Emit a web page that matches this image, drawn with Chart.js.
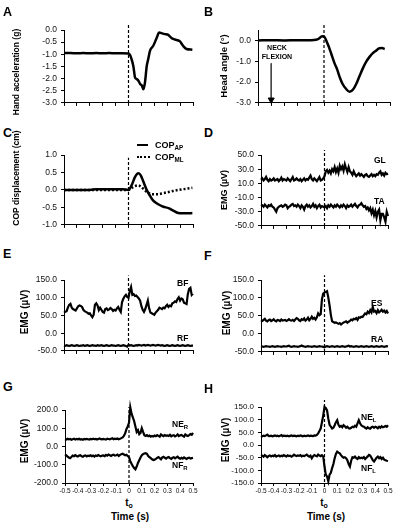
<!DOCTYPE html>
<html lang="en">
<head>
<meta charset="UTF-8">
<title>Neck flexion responses</title>
<script src="https://cdn.jsdelivr.net/npm/chart.js"></script>
<style>
  body { margin: 0; background: #fff; font-family: "Liberation Sans", Arial, sans-serif; color: #000; }
  #fig { position: relative; width: 402px; height: 527px; overflow: hidden; }
  canvas { position: absolute; }
  .lab { position: absolute; font-weight: bold; line-height: 1; white-space: nowrap; }
  .panel { font-size: 12.5px; }
  .yt { transform: translate(-50%, -50%) rotate(-90deg); }
  .ser { font-size: 8.5px; transform: translateY(-50%); }
  .mid { transform: translate(-50%, -50%); text-align: center; }
  sub { font-size: 70%; vertical-align: -2px; line-height: 0; }
  .smp { position: absolute; height: 0; }
</style>
</head>
<body>
<div id="fig">
  <canvas id="cA"></canvas><canvas id="cB"></canvas>
  <canvas id="cC"></canvas><canvas id="cD"></canvas>
  <canvas id="cE"></canvas><canvas id="cF"></canvas>
  <canvas id="cG"></canvas><canvas id="cH"></canvas>

  <!-- panel letters -->
  <div class="lab panel" style="left:3px;top:6px">A</div>
  <div class="lab panel" style="left:204px;top:6px">B</div>
  <div class="lab panel" style="left:3px;top:127px">C</div>
  <div class="lab panel" style="left:204px;top:127px">D</div>
  <div class="lab panel" style="left:3px;top:248px">E</div>
  <div class="lab panel" style="left:204px;top:250px">F</div>
  <div class="lab panel" style="left:3px;top:381px">G</div>
  <div class="lab panel" style="left:204px;top:383px">H</div>

  <!-- y axis titles -->
  <div class="lab yt" style="left:16px;top:72px;font-size:8.5px">Hand acceleration (g)</div>
  <div class="lab yt" style="left:224px;top:66px;font-size:9.5px">Head angle (°)</div>
  <div class="lab yt" style="left:16px;top:178px;font-size:8.5px">COP displacement (cm)</div>
  <div class="lab yt" style="left:224px;top:190px;font-size:9px">EMG (µV)</div>
  <div class="lab yt" style="left:25px;top:312px;font-size:10px">EMG (µV)</div>
  <div class="lab yt" style="left:227px;top:313px;font-size:10px">EMG (µV)</div>
  <div class="lab yt" style="left:25px;top:441px;font-size:10px">EMG (µV)</div>
  <div class="lab yt" style="left:226px;top:440px;font-size:10px">EMG (µV)</div>

  <!-- annotations -->
  <div class="lab mid" style="left:277px;top:52px;font-size:7px;line-height:9px">NECK<br>FLEXION</div>

  <div class="smp" style="left:137px;top:144px;width:11px;border-top:2px solid #000"></div>
  <div class="smp" style="left:137px;top:156px;width:13px;border-top:2px dotted #000"></div>
  <div class="lab ser" style="left:155px;top:145px;font-size:9px">COP<sub>AP</sub></div>
  <div class="lab ser" style="left:155px;top:157px;font-size:9px">COP<sub>ML</sub></div>

  <div class="lab ser" style="left:374px;top:160px">GL</div>
  <div class="lab ser" style="left:374px;top:201px">TA</div>
  <div class="lab ser" style="left:177px;top:283px">BF</div>
  <div class="lab ser" style="left:177px;top:338px">RF</div>
  <div class="lab ser" style="left:371px;top:303px">ES</div>
  <div class="lab ser" style="left:371px;top:339px">RA</div>
  <div class="lab ser" style="left:172px;top:424px">NE<sub>R</sub></div>
  <div class="lab ser" style="left:172px;top:465px">NF<sub>R</sub></div>
  <div class="lab ser" style="left:361px;top:417px">NE<sub>L</sub></div>
  <div class="lab ser" style="left:361px;top:468px">NF<sub>L</sub></div>

  <!-- x axis titles -->
  <div class="lab mid" style="left:129px;top:503px;font-size:10px">t<sub>o</sub></div>
  <div class="lab mid" style="left:130px;top:517px;font-size:10px">Time (s)</div>
  <div class="lab mid" style="left:324px;top:503px;font-size:10px">t<sub>o</sub></div>
  <div class="lab mid" style="left:326px;top:517px;font-size:10px">Time (s)</div>
</div>

<script>
// A: hand acceleration (g)
const accTime = [-0.5, -0.45, -0.4, -0.35, -0.3, -0.25, -0.2, -0.15, -0.1, -0.05, 0, 0.013, 0.026, 0.038, 0.051, 0.064, 0.077, 0.09, 0.103, 0.115, 0.128, 0.141, 0.154, 0.167, 0.192, 0.218, 0.238, 0.256, 0.282, 0.308, 0.333, 0.359, 0.397, 0.423, 0.449, 0.495];
const accValue = [-0.95, -0.95, -0.96, -0.95, -0.96, -0.95, -0.96, -0.95, -0.96, -0.96, -0.97, -1.04, -1.24, -1.5, -1.96, -2.02, -2.09, -2.22, -2.28, -2.44, -2.15, -1.5, -1.17, -0.85, -0.65, -0.33, -0.1, -0.13, -0.17, -0.2, -0.33, -0.39, -0.46, -0.65, -0.78, -0.81];

// B: head angle (deg)
const headTime = [-0.5, -0.4, -0.3, -0.2, -0.1, -0.06, -0.04, -0.015, 0.005, 0.02, 0.035, 0.055, 0.08, 0.1, 0.12, 0.14, 0.165, 0.195, 0.22, 0.245, 0.27, 0.295, 0.32, 0.345, 0.37, 0.395, 0.42, 0.44, 0.46];
const headValue = [0, 0.01, 0, 0.01, 0.01, 0.03, 0.08, 0.2, 0.15, -0.05, -0.28, -0.64, -1.1, -1.4, -1.78, -2.08, -2.31, -2.47, -2.36, -2.08, -1.7, -1.33, -1.02, -0.79, -0.61, -0.49, -0.38, -0.37, -0.41];
const neckArrow = [-1.1, -2.85];   // head angle span of the arrow at t = -0.4

// C: COP displacement (cm)
const copTime = [-0.5, -0.3, -0.25, -0.05, 0, 0.026, 0.05, 0.077, 0.095, 0.115, 0.14, 0.167, 0.19, 0.23, 0.27, 0.31, 0.346, 0.385, 0.42, 0.46, 0.495];
const copAP = [0, 0, 0.02, 0.02, 0, 0.15, 0.37, 0.48, 0.42, 0.24, 0.01, -0.17, -0.3, -0.41, -0.48, -0.52, -0.59, -0.66, -0.67, -0.67, -0.66];
const copML = [0, 0, 0, 0, 0, 0.06, 0.11, 0.13, 0.1, 0.03, -0.05, -0.11, -0.12, -0.12, -0.09, -0.06, -0.03, 0, 0.02, 0.04, 0.06];

// EMG traces, sampled every 10 ms from -0.5 to 0.5 s (uV)
const emgTime = Array.from({ length: 101 }, (_, i) => (i - 50) / 100);

const gl = [15, 17, 14, 16, 19, 15, 13, 16, 14, 15, 17, 14, 15, 16, 13, 15, 18, 14, 16, 15,
  14, 17, 15, 13, 16, 19, 14, 15, 17, 15, 14, 16, 13, 15, 17, 14, 16, 15, 18, 21,
  16, 14, 17, 15, 13, 16, 19, 14, 15, 17, 20,
  27, 29, 25, 28, 24, 30, 27, 33, 26, 31, 25, 35, 30, 34, 28, 37, 31, 26, 33, 27,
  25, 22, 27, 23, 20, 22, 24, 21, 23, 21, 19, 22, 23, 20, 19, 21, 23, 20, 22, 20,
  23, 22, 25, 27, 22, 24, 21, 25, 23, 24];
const ta = [-22, -21, -23, -20, -22, -24, -21, -22, -20, -23, -24, -27, -30, -25, -23, -22, -21, -23, -22, -20,
  -21, -25, -23, -22, -20, -19, -22, -21, -23, -20, -22, -25, -21, -23, -27, -22, -20, -23, -21, -24,
  -22, -19, -23, -21, -25, -22, -20, -24, -22, -23, -24,
  -22, -25, -21, -23, -20, -22, -24, -21, -23, -20, -22, -24, -21, -23, -20, -22, -25, -21, -23, -22,
  -20, -23, -21, -19, -22, -24, -21, -20, -18, -21, -23, -22, -26, -24, -28, -25, -32, -27, -35, -29,
  -38, -30, -27, -42, -33, -33, -38, -44, -30, -36, -24];

const bf = [58, 60, 62, 72, 80, 83, 72, 68, 66, 64, 70, 76, 78, 77, 74, 66, 62, 60, 58, 55,
  56, 50, 45, 52, 80, 84, 78, 65, 72, 66, 60, 58, 68, 70, 65, 67, 71, 68, 63, 66,
  64, 70, 74, 66, 60, 88, 97, 104, 108, 102, 100,
  118, 130, 108, 110, 105, 106, 102, 98, 92, 76, 66, 60, 68, 80, 92, 70, 58, 56, 54, 52,
  58, 62, 66, 72, 70, 68, 72, 70, 76, 80, 74, 78, 76, 84, 86, 90, 88, 96, 101, 92,
  98, 96, 86, 84, 82, 110, 125, 128, 108, 112];
const rf = [-35, -36, -34, -35, -36, -35, -34, -35, -36, -35, -34, -35, -36, -35, -35, -34, -36, -35, -34, -35,
  -36, -35, -34, -35, -35, -36, -34, -35, -35, -34, -35, -36, -35, -34, -35, -36, -35, -34, -35, -35,
  -36, -35, -34, -35, -36, -35, -34, -35, -36, -38, -33,
  -35, -34, -35, -36, -35, -34, -35, -33, -34, -35, -34, -33, -35, -34, -33, -34, -35, -34, -33, -34,
  -35, -34, -33, -34, -35, -34, -35, -36, -35, -34, -35, -36, -35, -34, -35, -36, -35, -34, -35, -36,
  -35, -34, -35, -36, -35, -34, -35, -36, -35, -35];

const es = [38, 36, 39, 42, 37, 35, 38, 40, 36, 38, 41, 37, 35, 39, 38, 36, 40, 37, 38, 39,
  36, 38, 41, 38, 37, 39, 36, 40, 44, 42, 38, 36, 41, 39, 43, 37, 40, 45, 38, 42,
  48, 42, 45, 40, 46, 57, 52, 55, 97, 112, 115,
  117, 119, 101, 79, 53, 35, 33, 31, 32, 30, 28, 30, 26, 29, 32, 33, 35, 31, 34, 36,
  40, 38, 42, 41, 44, 39, 46, 45, 48, 47, 52, 57, 55, 62, 58, 66, 60, 75, 62, 64,
  58, 66, 60, 63, 67, 62, 65, 60, 64, 57];
const ra = [-34, -35, -36, -35, -34, -35, -35, -36, -35, -34, -35, -36, -35, -34, -35, -35, -36, -35, -34, -35,
  -35, -34, -33, -35, -36, -35, -34, -35, -35, -36, -35, -34, -32, -34, -35, -36, -35, -34, -35, -35,
  -36, -35, -34, -35, -36, -35, -34, -35, -35, -36, -37,
  -35, -34, -35, -36, -35, -34, -35, -36, -35, -34, -35, -36, -35, -34, -35, -36, -35, -34, -33, -35,
  -34, -35, -36, -35, -34, -35, -36, -35, -34, -35, -36, -35, -34, -35, -36, -35, -34, -35, -36, -35,
  -34, -35, -36, -35, -34, -35, -36, -35, -34, -35];

const neR = [40, 38, 42, 39, 41, 37, 40, 43, 38, 41, 39, 42, 38, 40, 37, 41, 39, 42, 40, 38,
  41, 39, 43, 40, 42, 38, 41, 44, 40, 39, 42, 40, 38, 43, 41, 39, 42, 45, 40, 43,
  41, 44, 40, 42, 46, 50, 58, 72, 95, 110, 130,
  215, 180, 160, 140, 110, 80, 90, 68, 75, 100, 80, 62, 58, 62, 56, 60, 54, 58, 55, 60,
  56, 62, 58, 54, 66, 60, 57, 63, 59, 61, 58, 64, 56, 60, 62, 55, 59, 66, 57, 61,
  63, 58, 54, 66, 60, 57, 62, 68, 64, 75];
const nfR = [-52, -48, -55, -60, -64, -58, -50, -53, -47, -52, -55, -50, -48, -53, -56, -51, -49, -54, -50, -52,
  -48, -53, -50, -55, -49, -52, -47, -51, -54, -50, -49, -53, -46, -50, -44, -48, -52, -47, -45, -50,
  -48, -44, -52, -46, -42, -40, -44, -48, -45, -52, -58,
  -80, -95, -108, -118, -125, -110, -90, -75, -60, -48, -42, -38, -36, -40, -52, -58, -64, -70, -74, -72,
  -68, -62, -58, -64, -70, -60, -56, -62, -66, -60, -58, -64, -68, -62, -59, -65, -60, -56, -63, -67,
  -62, -66, -60, -64, -68, -63, -61, -66, -64, -62];

const neL = [36, 34, 37, 35, 38, 41, 36, 35, 37, 34, 36, 38, 35, 37, 34, 36, 39, 35, 37, 36,
  35, 37, 34, 36, 38, 35, 37, 36, 34, 37, 35, 38, 36, 34, 37, 35, 36, 38, 35, 37,
  36, 35, 38, 37, 40, 46, 55, 65, 90, 117, 150,
  146, 137, 104, 80, 72, 65, 68, 78, 90, 98, 80, 72, 75, 70, 78, 74, 68, 72, 66, 65,
  68, 72, 70, 76, 72, 85, 98, 86, 78, 74, 72, 68, 65, 70, 66, 64, 70, 72, 68, 72,
  70, 66, 72, 68, 74, 70, 72, 75, 72, 78];
const nfL = [-44, -42, -46, -40, -44, -48, -43, -41, -45, -42, -44, -40, -46, -43, -41, -45, -42, -44, -40, -43,
  -45, -41, -44, -42, -46, -43, -38, -42, -44, -41, -43, -40, -45, -42, -44, -41, -38, -43, -46, -42,
  -52, -44, -40, -42, -45, -38, -42, -44, -40, -45, -85,
  -117, -124, -143, -117, -110, -91, -75, -52, -35, -26, -30, -33, -40, -46, -50, -48, -52, -60, -75, -85,
  -62, -48, -50, -46, -52, -55, -48, -52, -50, -52, -48, -55, -50, -45, -39, -42, -50, -60, -65, -58,
  -50, -46, -52, -48, -55, -50, -58, -60, -62, -63];

// y axis [min, max, step] and extent of the dashed onset line for each panel
const axisA = [-3, 0, 0.5], onsetA = [-3, 0.27];
const axisB = [-3, 0.5, 0.5], onsetB = [-3, 0.8];
const axisC = [-1, 1, 0.5], onsetC = [-1, 0.92];
const axisD = [-50, 50, 20], onsetD = [-50, 57];
const axisE = [-50, 150, 50], onsetE = [-50, 163];
const axisF = [-50, 150, 50], onsetF = [-50, 163];
const axisG = [-200, 200, 100], onsetG = [-200, 216];
const axisH = [-150, 150, 50], onsetH = [-166, 178];

const FONT = '"Liberation Sans", Arial, sans-serif';

function pts(t, v) {
  return v.map((y, i) => ({ x: t[i], y: y }));
}

function trace(t, v, extra) {
  return Object.assign({
    data: pts(t, v), borderColor: '#000', borderWidth: 2.2,
    pointRadius: 0, tension: 0, clip: false
  }, extra || {});
}

function onset(r) {
  return {
    data: [{ x: 0, y: r[0] }, { x: 0, y: r[1] }],
    borderColor: '#000', borderWidth: 1.2, borderDash: [3, 2],
    pointRadius: 0, clip: false
  };
}

// box = plot area in page pixels [left, right, top, bottom]
function makePanel(id, box, axis, datasets, showTime, tickSize) {
  const left = box[0] < 201 ? 0 : 201;
  const padTop = 12;
  const xh = showTime ? 14 : 5;
  const cv = document.getElementById(id);
  cv.width = 201;
  cv.height = box[3] - box[2] + padTop + xh;
  cv.style.left = left + 'px';
  cv.style.top = (box[2] - padTop) + 'px';

  new Chart(cv, {
    type: 'line',
    data: { datasets: datasets },
    options: {
      responsive: false,
      animation: false,
      devicePixelRatio: 1,
      layout: { padding: { top: padTop, right: left + 201 - box[1], left: 0, bottom: 0 } },
      plugins: { legend: { display: false }, tooltip: { enabled: false } },
      scales: {
        x: {
          type: 'linear', min: -0.5, max: 0.5,
          afterFit: s => { s.height = xh; },
          border: { color: '#000', width: 1 },
          grid: { drawOnChartArea: false, tickLength: 3, color: '#000' },
          ticks: {
            stepSize: 0.1, display: showTime, autoSkip: false, maxRotation: 0, padding: 1,
            color: '#111', font: { size: 6.5, family: FONT },
            callback: v => Math.abs(v) < 1e-9 ? '0' : v.toFixed(1)
          }
        },
        y: {
          min: axis[0], max: axis[1],
          afterFit: s => { s.width = box[0] - left; },
          border: { color: '#000', width: 1 },
          grid: { drawOnChartArea: false, tickLength: 3, color: '#000' },
          ticks: {
            stepSize: axis[2], padding: 4, color: '#111',
            font: { size: tickSize, family: FONT },
            callback: v => v.toFixed(1)
          }
        }
      }
    }
  });
}

const smooth = { cubicInterpolationMode: 'monotone', borderWidth: 2.5 };

makePanel('cA', [64, 193, 30, 107], axisA,
  [trace(accTime, accValue, smooth), onset(onsetA)], false, 8.5);

makePanel('cB', [258, 390, 30, 107], axisB,
  [trace(headTime, headValue, smooth), onset(onsetB),
   { data: [{ x: -0.4, y: neckArrow[0] }, { x: -0.4, y: neckArrow[1] }],
     borderColor: '#444', borderWidth: 1, pointStyle: 'triangle', rotation: 180,
     pointRadius: [0, 3.5], pointBackgroundColor: '#000', pointBorderColor: '#000', clip: false }],
  false, 8.5);

makePanel('cC', [64, 193, 155, 229], axisC,
  [trace(copTime, copAP, smooth), trace(copTime, copML, Object.assign({}, smooth, { borderDash: [2, 2] })),
   onset(onsetC)], false, 8.5);

makePanel('cD', [261, 388, 155, 230], axisD,
  [trace(emgTime, gl), trace(emgTime, ta), onset(onsetD)], false, 8.5);

makePanel('cE', [64, 193, 280, 355], axisE,
  [trace(emgTime, bf), trace(emgTime, rf), onset(onsetE)], false, 8.5);

makePanel('cF', [261, 388, 280, 356], axisF,
  [trace(emgTime, es), trace(emgTime, ra), onset(onsetF)], false, 8.5);

makePanel('cG', [65, 193, 410, 483], axisG,
  [trace(emgTime, neR), trace(emgTime, nfR), onset(onsetG)], true, 8.5);

makePanel('cH', [261, 388, 407, 483], axisH,
  [trace(emgTime, neL), trace(emgTime, nfL), onset(onsetH)], true, 8);
</script>
</body>
</html>
